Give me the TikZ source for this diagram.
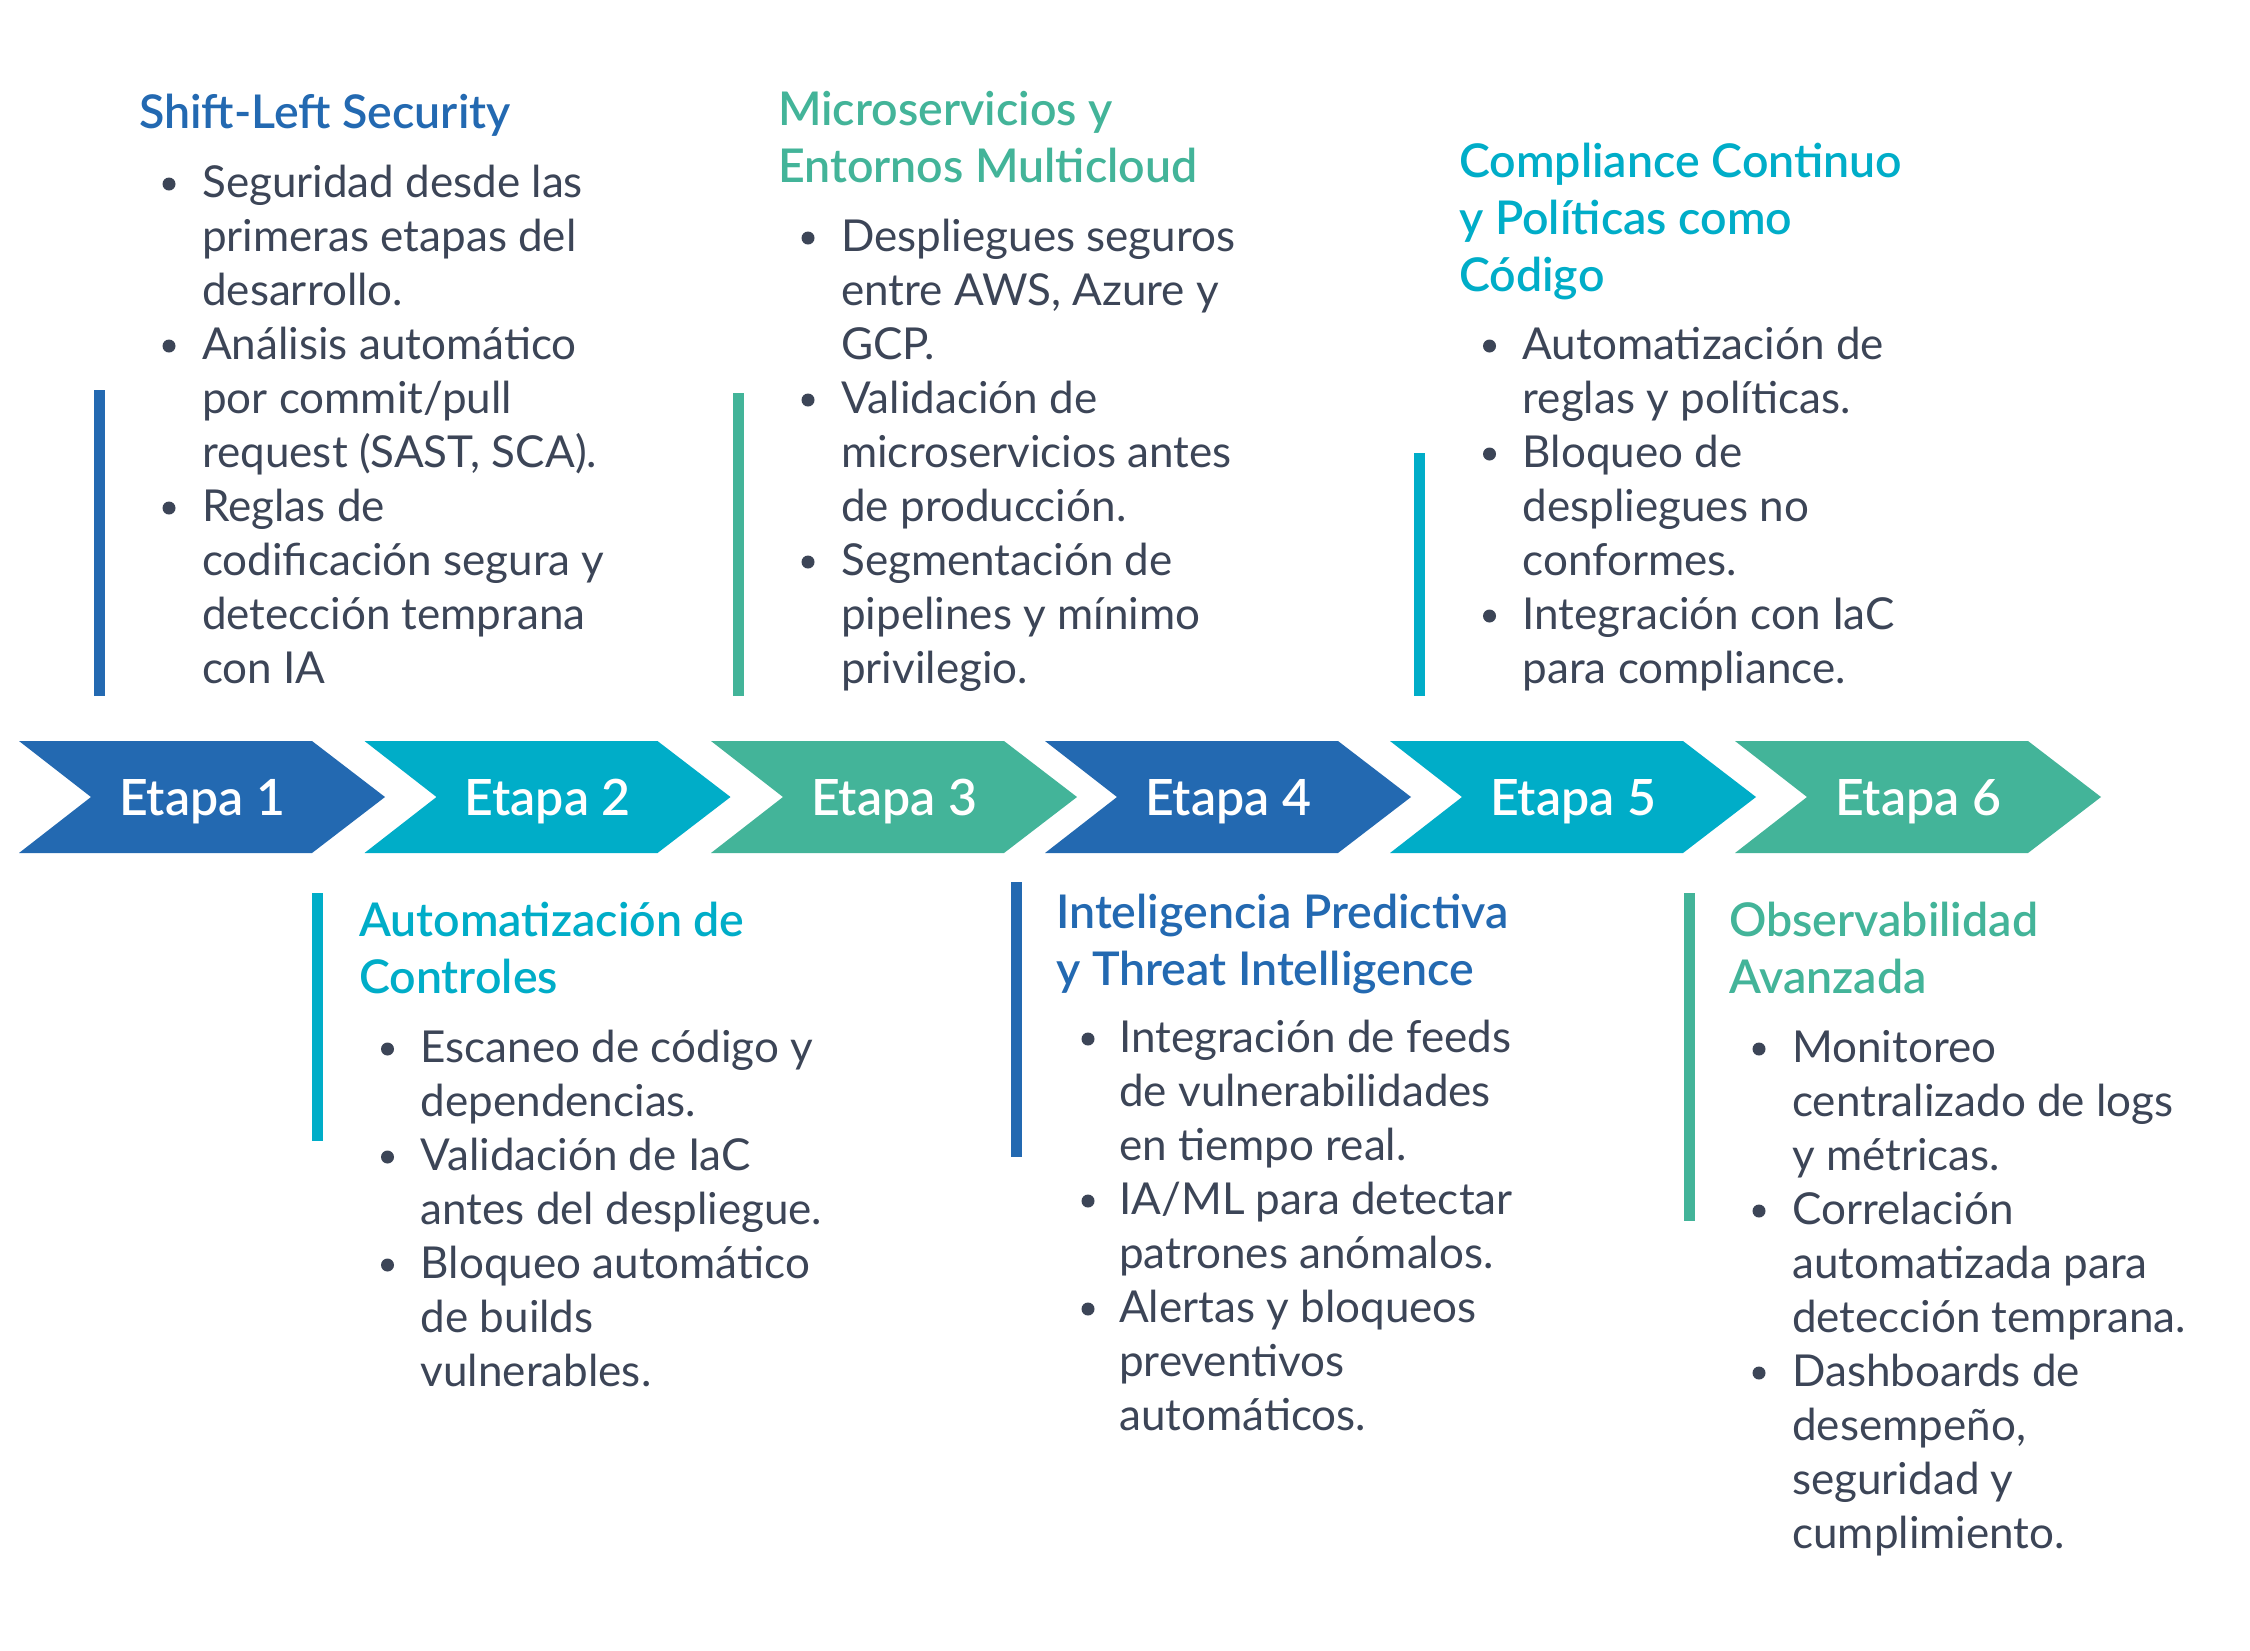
\documentclass[tikz,border=0pt]{standalone}
\usepackage{fontspec}
\setmainfont{Lato}
\newfontfamily\semib{Lato Semibold}
\definecolor{cblue}{RGB}{35,105,177}
\definecolor{ccyan}{RGB}{0,173,200}
\definecolor{cgreen}{RGB}{67,180,153}
\definecolor{txt}{RGB}{60,69,87}
\tikzset{
  bodytxt/.style={anchor=base west, inner sep=0pt, text=txt, font=\fontsize{44pt}{54pt}\selectfont},
  titletxt/.style={anchor=base west, inner sep=0pt, font=\semib\fontsize{46.5pt}{57pt}\selectfont},
  etapa/.style={anchor=base, inner sep=0pt, text=white, font=\semib\fontsize{50pt}{54pt}\selectfont},
  bar/.style={line width=11pt}
}
\newcommand\Body[5]{\foreach \b/\t [count=\i from 0] in {#5}{%
  \node[bodytxt] (#1\i) at (#3,{#4+54*\i}) {\t};
  \ifnum\b=1 \fill[txt] (#2,{#4+54*\i-13}) circle (6.5);\fi}}
\newcommand\Tit[5]{\foreach \t [count=\i from 0] in {#5}{%
  \node[titletxt, text=#4] (#1\i) at (#2,{#3+57*\i}) {\t};}}
\begin{document}
\begin{tikzpicture}[x=1pt,y=-1pt]
\fill[white] (0,0) rectangle (2250,1650);
\useasboundingbox (0,0) rectangle (2250,1650);
% chevrons
\foreach \L/\c/\n in {19/cblue/1, 364.5/ccyan/2, 711/cgreen/3, 1045/cblue/4, 1390/ccyan/5, 1735/cgreen/6}{
  \fill[\c] (\L,741) -- ++(293,0) -- ++(73,56) -- ++(-73,56) -- ++(-293,0) -- ++(72,-56) -- cycle;
  \node[etapa] (e\n) at (\L+183,815) {Etapa \n};
}
% bars
\draw[bar,cblue] (99,390) -- (99,696);
\draw[bar,ccyan] (317,893) -- (317,1141);
\draw[bar,cgreen] (738,393) -- (738,696);
\draw[bar,cblue] (1016,882) -- (1016,1157);
\draw[bar,ccyan] (1419,453) -- (1419,696);
\draw[bar,cgreen] (1689,893) -- (1689,1221);
% section 1
\Tit{t1}{139}{128}{cblue}{Shift-Left Security}
\Body{b1}{169}{202}{197}{1/Seguridad desde las, 0/primeras etapas del, 0/desarrollo., 1/Análisis automático, 0/{por commit/pull}, 0/{request (SAST, SCA).}, 1/Reglas de, 0/codificación segura y, 0/detección temprana, 0/con IA}
% section 2
\Tit{t2}{359}{936}{ccyan}{Automatización de, Controles}
\Body{b2}{387.5}{420.5}{1062}{1/Escaneo de código y, 0/dependencias., 1/Validación de IaC, 0/antes del despliegue., 1/Bloqueo automático, 0/de builds, 0/vulnerables.}
% section 3
\Tit{t3}{778}{125.5}{cgreen}{Microservicios y, Entornos Multicloud}
\Body{b3}{808}{841}{251}{1/Despliegues seguros, 0/{entre AWS, Azure y}, 0/GCP., 1/Validación de, 0/microservicios antes, 0/de producción., 1/Segmentación de, 0/pipelines y mínimo, 0/privilegio.}
% section 4
\Tit{t4}{1056}{928}{cblue}{Inteligencia Predictiva, y Threat Intelligence}
\Body{b4}{1088}{1119}{1052}{1/Integración de feeds, 0/de vulnerabilidades, 0/en tiempo real., 1/{IA/ML para detectar}, 0/patrones anómalos., 1/Alertas y bloqueos, 0/preventivos, 0/automáticos.}
% section 5
\Tit{t5}{1459}{177}{ccyan}{Compliance Continuo, y Políticas como, Código}
\Body{b5}{1489.5}{1522.5}{359}{1/Automatización de, 0/reglas y políticas., 1/Bloqueo de, 0/despliegues no, 0/conformes., 1/Integración con IaC, 0/para compliance.}
% section 6
\Tit{t6}{1729}{936}{cgreen}{Observabilidad, Avanzada}
\Body{b6}{1759}{1792}{1062}{1/Monitoreo, 0/centralizado de logs, 0/y métricas., 1/Correlación, 0/automatizada para, 0/detección temprana., 1/Dashboards de, 0/{desempeño,}, 0/seguridad y, 0/cumplimiento.}
\end{tikzpicture}
\end{document}
